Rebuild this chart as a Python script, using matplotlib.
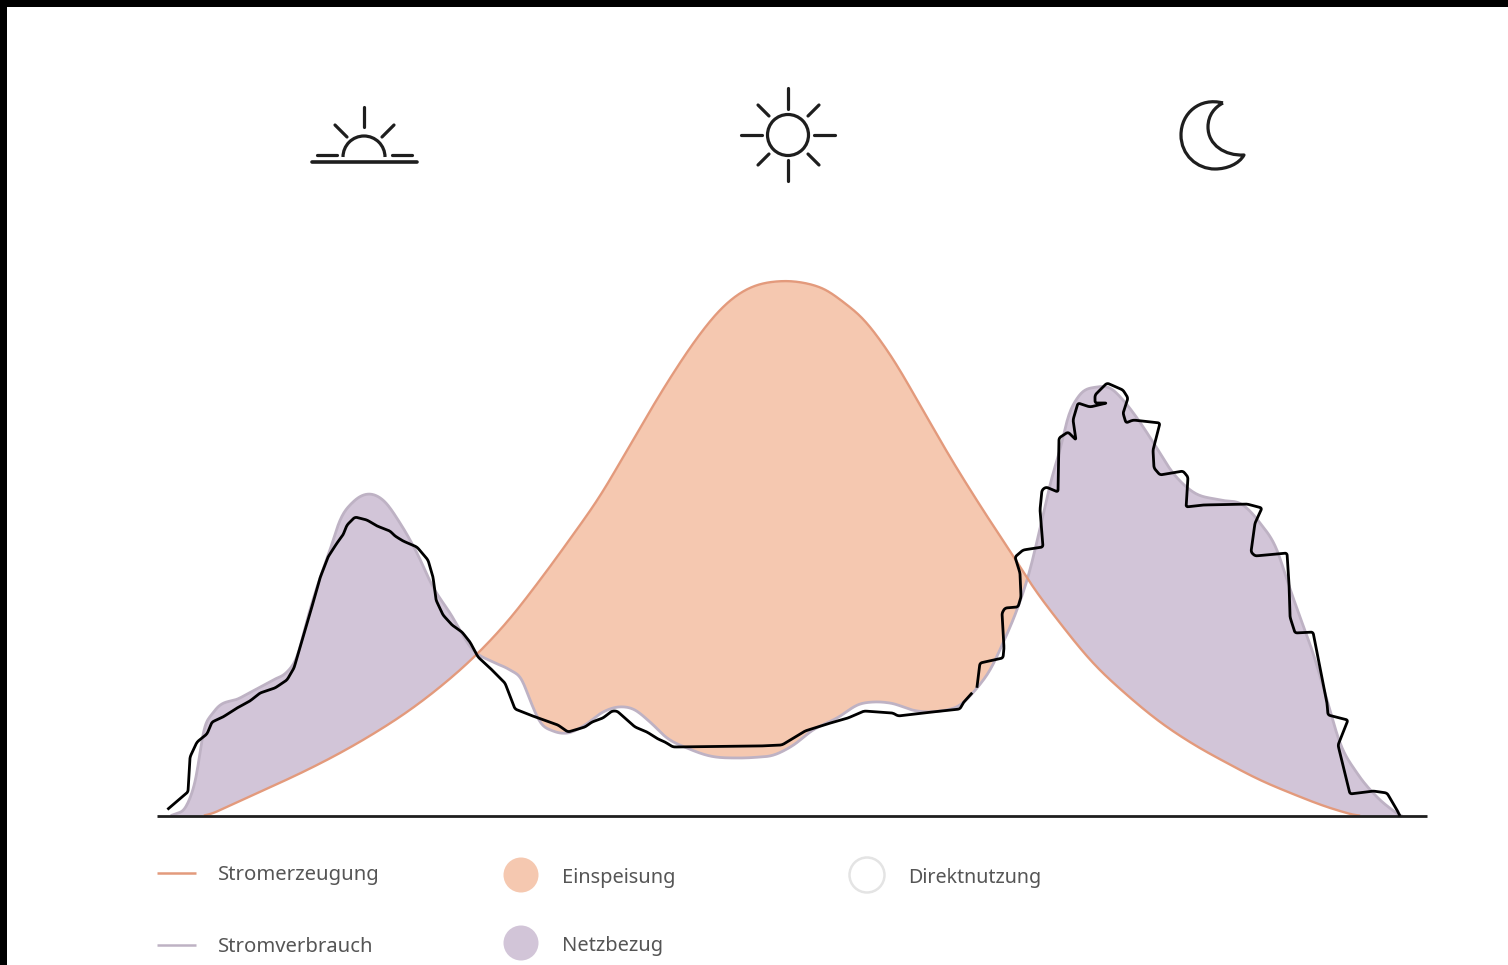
import numpy as np
import matplotlib
matplotlib.use("Agg")
import matplotlib.pyplot as plt
from matplotlib.patches import Arc, Circle, PathPatch, Rectangle
from matplotlib.path import Path

ORANGE_FILL = "#F5C8B0"
ORANGE_LINE = "#E39A7C"
PURPLE_FILL = "#D2C5D8"
PURPLE_LINE = "#BEB2C4"
INK = "#1E1E1E"
LEGEND_TEXT = "#555555"

# Stromerzeugung
gen_x = [207, 240, 273, 307, 340, 373, 407, 440, 473, 507, 540, 570, 600, 633, 667, 700, 717, 733, 747,
         760, 775, 790, 805, 817, 830, 843, 855, 867, 880, 893, 920, 950, 983, 1017, 1027, 1060, 1093,
         1127, 1160, 1193, 1227, 1260, 1293, 1327, 1357]
gen_h = [0, 15, 30, 46, 63, 82, 104, 129, 158, 194, 236, 277, 320, 376, 433, 482, 503, 518, 527,
         532, 534.5, 535, 533, 530, 524, 514, 505, 493, 476, 457, 411, 359, 306, 254, 238, 193, 153,
         121, 94, 72, 53, 36, 22, 9, 0]

# Stromverbrauch (smooth)
con_x = [173, 187, 197, 203, 213, 240, 273, 287, 297, 307, 317, 330, 340, 353, 370, 383, 400, 417,
         433, 450, 473, 493, 510, 522, 530, 540, 553, 568, 585, 603, 618, 633, 650, 667, 687, 710,
         737, 760, 770, 792, 813, 837, 860, 873, 890, 917, 940, 960, 977, 990, 1003, 1018, 1028,
         1042, 1052, 1060, 1068, 1078, 1097, 1110, 1123, 1137, 1153, 1173, 1193, 1220, 1243, 1260,
         1277, 1288, 1300, 1313, 1327, 1340, 1357, 1377, 1400]
con_h = [1, 11, 43, 83, 103, 118, 136, 144, 159, 196, 229, 266, 296, 314, 322, 316, 293, 263,
         229, 203, 166, 154, 146, 136, 116, 94, 85, 83, 91, 104, 109, 107, 94, 78, 68, 60,
         58, 59, 60, 70, 86, 98, 112, 114, 113, 105, 105, 111, 128, 146, 173, 209, 239,
         296, 339, 366, 399, 419, 429, 428, 416, 398, 374, 343, 324, 316, 311, 293,
         266, 233, 199, 163, 116, 73, 43, 19, 0]

# hand-drawn black line, two pieces with a small gap
black1_x = [168, 188, 190, 197, 207, 212, 223, 237, 250, 260, 275, 287, 294, 303, 308, 313, 320, 328,
            337, 343, 347, 355, 367, 377, 390, 395, 403, 417, 428, 433, 436, 443, 452, 462, 470, 478,
            490, 505, 515, 530, 558, 568, 585, 592, 603, 612, 617, 635, 647, 658, 665, 673, 760, 782,
            805, 827, 848, 864, 893, 898, 923, 960, 963, 972]
black1_h = [7, 24, 59, 74, 82, 94, 99, 108, 115, 123, 128, 136, 148, 179, 196, 213, 238, 259,
            273, 281, 291, 299, 296, 290, 285, 280, 275, 269, 256, 239, 216, 201, 191, 184, 174, 159,
            148, 133, 107, 101, 91, 84, 89, 94, 98, 105, 105, 89, 84, 77, 74, 69, 70, 71,
            85, 92, 98, 105, 103, 100, 103, 107, 113, 123]
black2_x = [977, 979, 980, 1003, 1004, 1002, 1005, 1018, 1021, 1020, 1015, 1023, 1043, 1040, 1042, 1046,
            1058, 1059, 1068, 1076, 1073, 1078, 1090, 1107, 1095, 1095, 1107, 1123, 1128, 1123, 1126,
            1133, 1160, 1153, 1154, 1160, 1183, 1188, 1186, 1203, 1247, 1262, 1255, 1251, 1255, 1287,
            1289, 1290, 1295, 1313, 1327, 1328, 1348, 1338, 1350, 1373, 1387, 1397, 1400]
black2_h = [129, 146, 153, 158, 168, 203, 208, 209, 219, 243, 259, 266, 269, 306, 326, 329,
            324, 378, 384, 376, 396, 413, 409, 413, 413, 421, 433, 426, 418, 403, 393,
            396, 393, 366, 348, 341, 345, 339, 309, 311, 312, 308, 293, 264, 260, 263,
            233, 199, 183, 184, 113, 101, 96, 71, 22, 25, 23, 6, 0]

legend_lines = [("Stromerzeugung", ORANGE_LINE, 873), ("Stromverbrauch", PURPLE_LINE, 945)]
legend_dots = [("Einspeisung", ORANGE_FILL, 521, 875, 876), ("Netzbezug", PURPLE_FILL, 521, 943, 944)]


def curve(grid, xs, ys, n=7):
    # cubic hermite through the read points, only so the outline is not a polygon
    xs = np.asarray(xs, float)
    ys = np.asarray(ys, float)
    slopes = np.gradient(ys, xs)
    i = np.clip(np.searchsorted(xs, grid) - 1, 0, len(xs) - 2)
    h = xs[i + 1] - xs[i]
    t = np.clip((grid - xs[i]) / h, 0, 1)
    out = ((2 * t**3 - 3 * t**2 + 1) * ys[i] + (t**3 - 2 * t**2 + t) * h * slopes[i]
           + (-2 * t**3 + 3 * t**2) * ys[i + 1] + (t**3 - t**2) * h * slopes[i + 1])
    kernel = np.ones(n) / n
    return np.clip(np.convolve(out, kernel, mode="same"), 0, None)


def rounded(xs, ys, n=5):
    # walk along the pen stroke and soften its corners a little
    xs = np.asarray(xs, float)
    ys = np.asarray(ys, float)
    dist = np.r_[0, np.cumsum(np.hypot(np.diff(xs), np.diff(ys)))]
    s = np.arange(0, dist[-1], 1.0)
    px = np.interp(s, dist, xs)
    py = np.interp(s, dist, ys)
    kernel = np.ones(n) / n
    pad = n // 2
    px2 = np.convolve(np.pad(px, pad, mode="edge"), kernel, mode="valid")
    py2 = np.convolve(np.pad(py, pad, mode="edge"), kernel, mode="valid")
    return px2, py2


plt.rcParams["font.family"] = ["Noto Sans", "DejaVu Sans"]
fig = plt.figure(figsize=(15.08, 9.65), dpi=100, facecolor="white")

# chart: x and height in the picture's pixels, zero on the base line
ax = fig.add_axes([0, 0, 1, 1])
ax.set_xlim(0, 1508)
ax.set_ylim(-149, 816)
ax.axis("off")

grid = np.arange(172.0, 1402.0)
gen = curve(grid, gen_x, gen_h, n=21)
con = curve(grid, con_x, con_h)
ax.fill_between(grid, gen, con, where=con >= gen, interpolate=True, color=PURPLE_FILL, lw=0)
ax.fill_between(grid, gen, con, where=gen >= con, interpolate=True, color=ORANGE_FILL, lw=0)
ax.plot(grid, con, color=PURPLE_LINE, lw=2)
on = (grid > 204) & (grid < 1360)
ax.plot(grid[on], gen[on], color=ORANGE_LINE, lw=1.7)
ax.plot([157, 1427], [0, 0], color=INK, lw=2, solid_capstyle="butt")
for bx, bh in [(black1_x, black1_h), (black2_x, black2_h)]:
    px, py = rounded(bx, bh)
    ax.plot(px, py, color="black", lw=2, solid_joinstyle="round")

# icons and legend, y downwards like the picture
deco = fig.add_axes([0, 0, 1, 1])
deco.set_xlim(0, 1508)
deco.set_ylim(965, 0)
deco.axis("off")
deco.patch.set_alpha(0)

# sunrise
icon_lw = 2.3
for x0, y0, x1, y1 in [(364, 107, 364, 127), (335, 125, 347, 137), (394, 125, 382, 137),
                       (317, 155, 337, 155), (392, 155, 412, 155)]:
    deco.plot([x0, x1], [y0, y1], color=INK, lw=icon_lw, solid_capstyle="round")
deco.plot([312, 417], [162, 162], color=INK, lw=2.6, solid_capstyle="round")
deco.add_patch(Arc((364, 157), 42, 42, theta1=180, theta2=360, color=INK, lw=icon_lw))

# sun
deco.add_patch(Circle((788, 135), 20.5, fill=False, ec=INK, lw=icon_lw))
for x0, y0, x1, y1 in [(788, 88, 788, 109), (788, 160, 788, 181), (741, 135, 762, 135), (814, 135, 835, 135),
                       (758, 105, 769, 116), (819, 105, 808, 116), (758, 165, 769, 154), (819, 165, 808, 154)]:
    deco.plot([x0, x1], [y0, y1], color=INK, lw=icon_lw, solid_capstyle="round")

# moon
moon_pts = [(1223, 103), (1200, 97), (1181, 113), (1181, 135), (1181, 155), (1197, 169), (1215, 169),
            (1227, 169), (1239, 164), (1244, 155), (1225, 156), (1208, 145), (1208, 127),
            (1208, 115), (1215, 107), (1223, 103)]
moon_codes = [Path.MOVETO] + [Path.CURVE4] * 15
deco.add_patch(PathPatch(Path(moon_pts, moon_codes), fill=False, ec=INK, lw=icon_lw, joinstyle="round"))

# legend
for label, color, y in legend_lines:
    deco.plot([157, 196], [y, y], color=color, lw=1.8, solid_capstyle="butt")
    deco.text(218, y + 2, label, color=LEGEND_TEXT, fontsize=14.6, va="center", ha="left")
for label, color, cx, cy, ty in legend_dots:
    deco.add_patch(Circle((cx, cy), 17.5, fc=color, ec="none"))
    deco.text(562.5, ty + 2, label, color=LEGEND_TEXT, fontsize=14.4, va="center", ha="left")
deco.add_patch(Circle((867, 875), 17.5, fc="white", ec="#E4E4E4", lw=1.8))
deco.text(908.5, 878, "Direktnutzung", color=LEGEND_TEXT, fontsize=14.2, va="center", ha="left")

# black edge on the top and left of the screenshot
deco.add_patch(Rectangle((0, 0), 1508, 7, fc="black", ec="none"))
deco.add_patch(Rectangle((0, 0), 7, 965, fc="black", ec="none"))

fig.savefig("out.png", dpi=100)
plt.close(fig)
